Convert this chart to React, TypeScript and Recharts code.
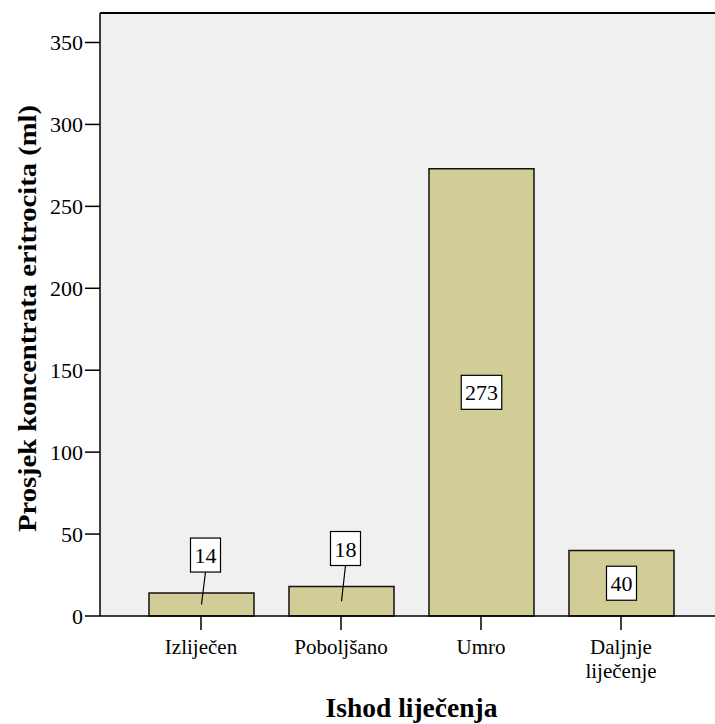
import { Bar, BarChart, CartesianGrid, LabelList, ReferenceLine, XAxis, YAxis } from "recharts";

const categories = ["Izliječen", "Poboljšano", "Umro", "Daljnje liječenje"];
const means = [14, 18, 273, 40];
const yTicks = [0, 50, 100, 150, 200, 250, 300, 350];
const yMax = 368;

const FONT = "Liberation Serif";

const data = categories.map((name, i) => ({ name, value: means[i] }));

function CategoryTick(props: any) {
  const { x, y, payload } = props;
  const lines = String(payload.value).split(" ");
  return (
    <text x={x} y={y} textAnchor="middle" fontFamily={FONT} fontSize={21} fill="#000">
      {lines.map((line, i) => (
        <tspan key={i} x={x} dy={i === 0 ? 22 : 24}>
          {line}
        </tspan>
      ))}
    </text>
  );
}

// the source axis title is stretched along its length, hence textLength
function YTitle(props: any) {
  const { viewBox } = props;
  const cy = viewBox.y + viewBox.height / 2 + 4;
  const cx = 27;
  return (
    <text
      x={cx}
      y={cy}
      transform={`rotate(-90 ${cx} ${cy})`}
      textAnchor="middle"
      dominantBaseline="central"
      fontFamily={FONT}
      fontSize={25}
      fontWeight="bold"
      fill="#000"
      textLength={427}
      lengthAdjust="spacingAndGlyphs"
    >
      Prosjek koncentrata eritrocita (ml)
    </text>
  );
}

// value box: centred in the bar, or lifted above with a leader line when the bar is short
function ValueBox(props: any) {
  const { x, y, width, height, value } = props;
  const txt = String(value);
  const boxW = txt.length * 10.5 + 9;
  const boxH = 34;
  const cx = x + width / 2;
  const midY = y + height / 2;
  if (height < 45) {
    const bx = cx + 4;
    const by = y - 38;
    return (
      <g>
        <line x1={cx} y1={midY} x2={bx} y2={by + boxH / 2} stroke="#000" strokeWidth={1.2} />
        <rect x={bx - boxW / 2} y={by - boxH / 2} width={boxW} height={boxH} fill="#fff" stroke="#000" strokeWidth={1.2} />
        <text x={bx} y={by + 8} textAnchor="middle" fontFamily={FONT} fontSize={22} fill="#000">
          {txt}
        </text>
      </g>
    );
  }
  return (
    <g>
      <rect x={cx - boxW / 2} y={midY - boxH / 2} width={boxW} height={boxH} fill="#fff" stroke="#000" strokeWidth={1.2} />
      <text x={cx} y={midY + 8} textAnchor="middle" fontFamily={FONT} fontSize={22} fill="#000">
        {txt}
      </text>
    </g>
  );
}

export default function App() {
  return (
    <div style={{ position: "absolute", left: 0, top: 0, background: "#fff", fontFamily: FONT }}>
      <BarChart
        width={715}
        height={724}
        data={data}
        margin={{ top: 13, right: 0, left: 0, bottom: 0 }}
        barCategoryGap={0}
      >
        <CartesianGrid fill="#f0f0f0" horizontal={false} vertical={false} />
        <ReferenceLine y={yMax} stroke="#000" strokeWidth={2} />
        <XAxis
          dataKey="name"
          interval={0}
          height={108}
          padding={{ left: 31, right: 24 }}
          tickSize={14}
          axisLine={{ stroke: "#000", strokeWidth: 1.5 }}
          tickLine={{ stroke: "#000", strokeWidth: 1.5 }}
          tick={<CategoryTick />}
          label={{
            value: "Ishod liječenja",
            position: "insideBottom",
            offset: 7,
            dx: 4,
            style: { fontFamily: FONT, fontSize: 27.5, fontWeight: "bold", fill: "#000" },
          }}
        />
        <YAxis
          width={100}
          domain={[0, yMax]}
          ticks={yTicks}
          tickSize={15}
          tickMargin={2}
          axisLine={{ stroke: "#000", strokeWidth: 1.5 }}
          tickLine={{ stroke: "#000", strokeWidth: 1.5 }}
          tick={{ fontFamily: FONT, fontSize: 22, fill: "#000" }}
          label={<YTitle />}
        />
        <Bar dataKey="value" barSize={105} fill="#d2cd97" stroke="#111" strokeWidth={1.5} isAnimationActive={false}>
          <LabelList dataKey="value" content={<ValueBox />} />
        </Bar>
      </BarChart>
    </div>
  );
}
